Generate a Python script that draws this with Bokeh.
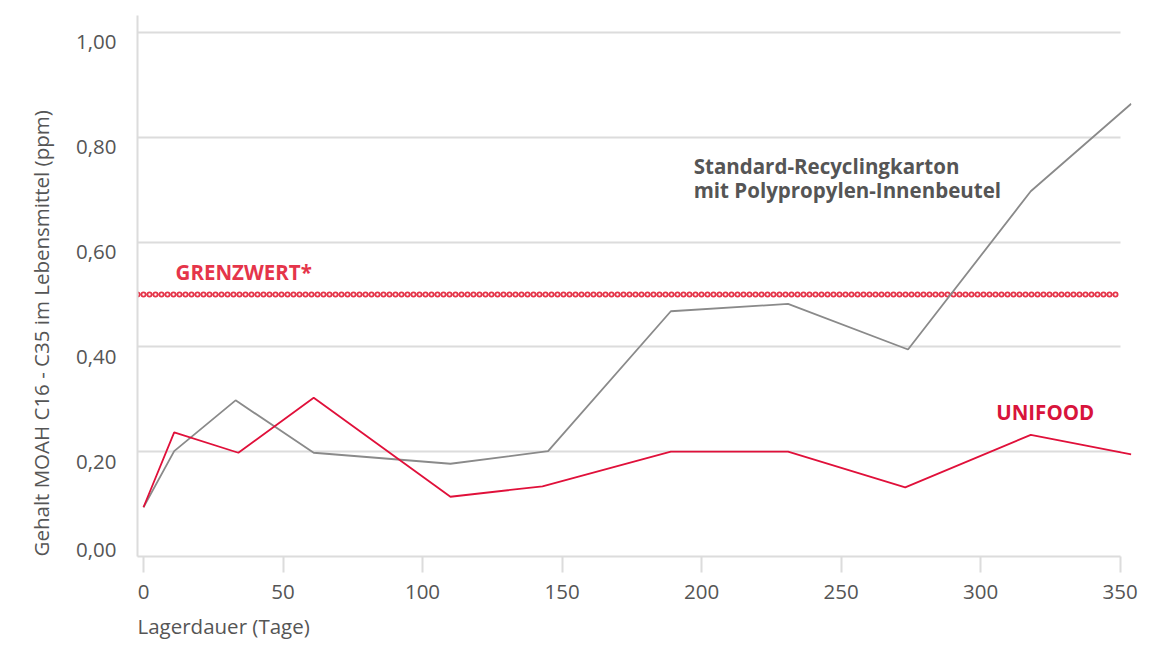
from bokeh.plotting import figure
from bokeh.models import FixedTicker, Range1d, CustomJSTickFormatter, LinearAxis, Grid, Title
from bokeh.core.properties import value
from bokeh.embed import file_html
from bokeh.resources import INLINE

# ---------------- data ----------------
DAYS_STANDARD = [0, 11, 33, 61, 110, 145, 189, 231, 274, 318, 354]
MOAH_STANDARD = [0.094, 0.201, 0.298, 0.198, 0.177, 0.201, 0.468, 0.482, 0.395, 0.697, 0.864]

DAYS_UNIFOOD = [0, 11, 34, 61, 110, 143, 189, 231, 273, 318, 354]
MOAH_UNIFOOD = [0.094, 0.237, 0.198, 0.303, 0.114, 0.134, 0.200, 0.200, 0.132, 0.232, 0.195]

GRENZWERT = 0.5

X_TICKS = [0, 50, 100, 150, 200, 250, 300, 350]
X_TICK_LABELS = ["0", "50", "100", "150", "200", "250", "300", "350"]
Y_TICKS = [0.0, 0.2, 0.4, 0.6, 0.8, 1.0]
Y_TICK_LABELS = ["0,00", "0,20", "0,40", "0,60", "0,80", "1,00"]

X_LABEL = "Lagerdauer (Tage)"
Y_LABEL = "Gehalt MOAH C16 - C35 im Lebensmittel (ppm)"
LABEL_STANDARD = ["Standard-Recyclingkarton", "mit Polypropylen-Innenbeutel"]
LABEL_UNIFOOD = ["UNIFOOD"]
LABEL_GRENZWERT = ["GRENZWERT*"]

# ---------------- layout / style ----------------
W, H = 1152, 648
FRAME_L, FRAME_T, FRAME_R, FRAME_B = 137, 15, 1131, 556

X_MIN, X_MAX = -2.15, 354.1
X_AXIS_END = 350
Y_MIN, Y_MAX = 0.0, 1.0324
PX_PER_Y = (FRAME_B - FRAME_T) / (Y_MAX - Y_MIN)

# y tick labels sit slightly below their grid line (the zero label slightly above)
LABEL_DROP = 10 / PX_PER_Y
ZERO_LIFT = 7 / PX_PER_Y

POS_STANDARD_X = [197.2, 197.2]
POS_STANDARD_Y = [0.7454, 0.6994]
POS_UNIFOOD = ([305.6], [0.2749])
POS_GRENZWERT = ([11.5], [0.5424])

FONT = "Open Sans"
FS = "20.5px"
TEXT_GRAY = "#555555"
AXIS_GRAY = "#dcdcdc"
LINE_GRAY = "#8a8a8a"
RED_LINE = "#e0103a"
RED_UNIFOOD = "#d8143c"
RED_GRENZ = "#e5354a"

p = figure(width=W, height=H, output_backend="svg", toolbar_location=None,
           x_range=Range1d(X_MIN, X_MAX), y_range=Range1d(Y_MIN, Y_MAX),
           y_axis_location=None,
           min_border_left=FRAME_L, min_border_right=W - FRAME_R,
           min_border_top=FRAME_T, min_border_bottom=H - FRAME_B)
p.outline_line_color = None
p.background_fill_color = "white"
p.border_fill_color = "white"

fmt_code = """
const i = tvals.findIndex(t => Math.abs(t - tick) < 1e-9);
return i >= 0 ? tlabels[i] : '';
"""

# ---- x axis ----
xa = p.xaxis[0]
xa.ticker = FixedTicker(ticks=X_TICKS)
xa.formatter = CustomJSTickFormatter(args=dict(tvals=X_TICKS, tlabels=X_TICK_LABELS), code=fmt_code)
xa.bounds = (X_MIN, X_AXIS_END)
xa.axis_line_color = AXIS_GRAY
xa.axis_line_width = 2
xa.major_tick_line_color = AXIS_GRAY
xa.major_tick_line_width = 2
xa.major_tick_out = 16
xa.major_tick_in = 0
xa.minor_tick_out = 0
xa.minor_tick_in = 0
xa.major_label_standoff = 12
xa.major_label_text_font = FONT
xa.major_label_text_font_size = FS
xa.major_label_text_color = TEXT_GRAY

# ---- y axis (labels on a shifted helper range) ----
ylab_ticks = [ZERO_LIFT + LABEL_DROP if t == 0 else t for t in Y_TICKS]
p.extra_y_ranges = {"ylab": Range1d(Y_MIN + LABEL_DROP, Y_MAX + LABEL_DROP)}
ya = LinearAxis(y_range_name="ylab")
ya.ticker = FixedTicker(ticks=ylab_ticks)
ya.formatter = CustomJSTickFormatter(args=dict(tvals=ylab_ticks, tlabels=Y_TICK_LABELS), code=fmt_code)
ya.axis_line_color = AXIS_GRAY
ya.axis_line_width = 2
ya.major_tick_out = 0
ya.major_tick_in = 0
ya.minor_tick_out = 0
ya.minor_tick_in = 0
ya.major_label_standoff = 21
ya.major_label_text_font = FONT
ya.major_label_text_font_size = FS
ya.major_label_text_color = TEXT_GRAY
p.add_layout(ya, "left")

# ---- grid ----
p.xgrid.visible = False
yg = p.ygrid[0]
yg.ticker = FixedTicker(ticks=Y_TICKS)
yg.grid_line_color = AXIS_GRAY
yg.grid_line_width = 2
if "cross_bounds" in Grid.properties():
    yg.cross_bounds = (X_MIN, X_AXIS_END)

# ---- axis titles (as side titles, aligned to the start of the axes) ----
p.add_layout(Title(text=X_LABEL, align="left", text_font=FONT, text_font_size=FS,
                   text_font_style="normal", text_color=TEXT_GRAY, standoff=16), "below")
p.add_layout(Title(text=Y_LABEL, align="left", text_font=FONT, text_font_size=FS,
                   text_font_style="normal", text_color=TEXT_GRAY, standoff=38), "left")

# ---- Grenzwert chain line ----
p.segment(x0=[X_MIN], x1=[X_AXIS_END], y0=[GRENZWERT], y1=[GRENZWERT],
          line_color=RED_GRENZ, line_width=6, line_dash="0 6", line_cap="round")
p.segment(x0=[X_MIN], x1=[X_AXIS_END], y0=[GRENZWERT], y1=[GRENZWERT],
          line_color="white", line_width=2.4, line_dash="0 6", line_cap="round")

# ---- series ----
p.line(DAYS_STANDARD, MOAH_STANDARD, line_color=LINE_GRAY, line_width=1.8)
p.line(DAYS_UNIFOOD, MOAH_UNIFOOD, line_color=RED_LINE, line_width=1.8)

# ---- labels ----
p.text(x=POS_STANDARD_X, y=POS_STANDARD_Y, text=LABEL_STANDARD,
       text_font=value(FONT), text_font_style="bold", text_font_size=FS,
       text_color=TEXT_GRAY, text_align="left", text_baseline="alphabetic")
p.text(x=POS_UNIFOOD[0], y=POS_UNIFOOD[1], text=LABEL_UNIFOOD,
       text_font=value(FONT), text_font_style="bold", text_font_size=FS,
       text_color=RED_UNIFOOD, text_align="left", text_baseline="alphabetic")
p.text(x=POS_GRENZWERT[0], y=POS_GRENZWERT[1], text=LABEL_GRENZWERT,
       text_font=value(FONT), text_font_style="bold", text_font_size=FS,
       text_color=RED_GRENZ, text_align="left", text_baseline="alphabetic")

open("out.html", "w").write(file_html(p, INLINE))
